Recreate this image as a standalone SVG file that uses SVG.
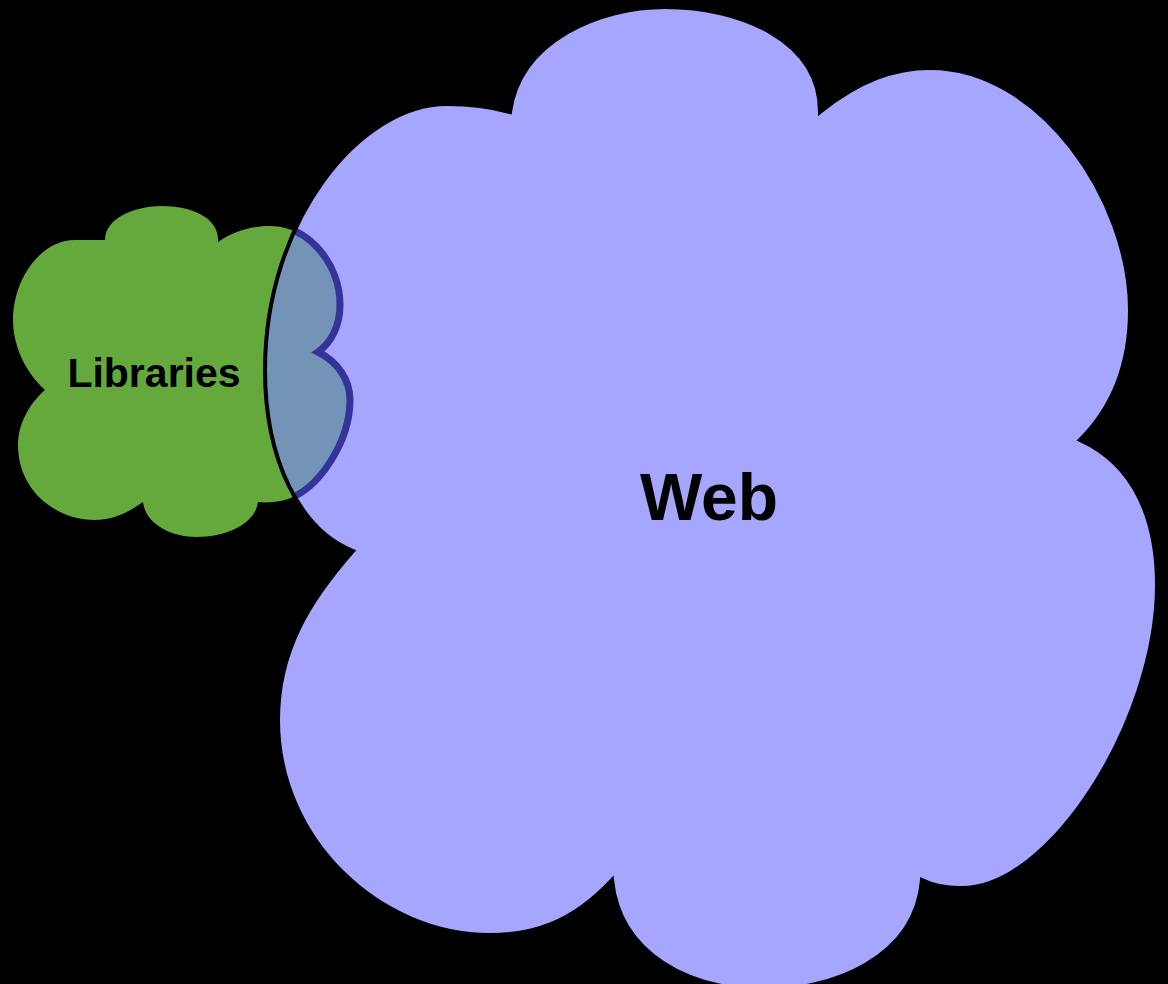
<svg xmlns="http://www.w3.org/2000/svg" width="1168" height="984" viewBox="0 0 1168 984">
  <style>
    .label { font-family: "Liberation Sans", Arial, Helvetica, sans-serif; font-weight: bold; fill: #000; text-anchor: middle; }
    .libraries-fill { fill: #65A93D; }
    .web-fill { fill: #A6A6FE; }
    .web-edge { fill: none; stroke: #000; stroke-width: 4; stroke-linejoin: miter; }
    .overlap { fill: #7393B7; stroke: #333399; stroke-width: 7; }
  </style>
  <defs>
    <!-- cloud outlines, reused for fills, clipping and edges -->
    <path id="libraries-cloud" d="M 105,240
      C 105,218 135,206 162,206
      C 192,206 220,218 218,242
      C 235,230 255,226 270,226
      C 310,226 340,265 340,305
      C 340,325 332,342 318,352
      C 338,362 350,380 350,400
      C 350,440 320,490 285,500
      C 277,502 268,503 258,502
      C 255,525 225,537 197,537
      C 168,537 145,522 143,502
      C 125,515 110,520 95,520
      C 55,520 18,490 18,445
      C 18,425 28,405 45,390
      C 25,372 13,345 13,320
      C 13,280 40,240 75,240
      C 85,240 95,240 105,240 Z"/>
    <path id="web-cloud" d="M 510,112
      C 520,40 600,7 665,7
      C 740,7 820,40 820,112
      C 860,80 895,68 930,68
      C 1040,68 1130,200 1130,310
      C 1130,370 1110,410 1080,440
      C 1135,465 1157,520 1157,585
      C 1157,720 1050,890 960,888
      C 945,888 932,885 922,880
      C 915,960 830,990 765,990
      C 690,990 620,955 612,880
      C 570,925 530,935 490,935
      C 380,935 278,840 278,720
      C 278,650 310,600 353,551
      C 300,530 265,460 265,370
      C 265,220 360,104 447,104
      C 470,104 492,107 510,112 Z"/>
    <clipPath id="clip-web">
      <use href="#web-cloud"/>
    </clipPath>
  </defs>

  <rect x="0" y="0" width="1168" height="984" fill="#000"/>

  <g id="libraries">
    <use href="#libraries-cloud" class="libraries-fill"/>
    <text class="label" x="154" y="387" font-size="41">Libraries</text>
  </g>

  <g id="web">
    <use href="#web-cloud" class="web-fill"/>
  </g>

  <!-- shared area of the two clouds -->
  <g id="libraries-web-overlap" clip-path="url(#clip-web)">
    <use href="#libraries-cloud" class="overlap"/>
  </g>

  <g id="web-outline">
    <use href="#web-cloud" class="web-edge"/>
    <text class="label" x="709" y="520" font-size="66">Web</text>
  </g>
</svg>
